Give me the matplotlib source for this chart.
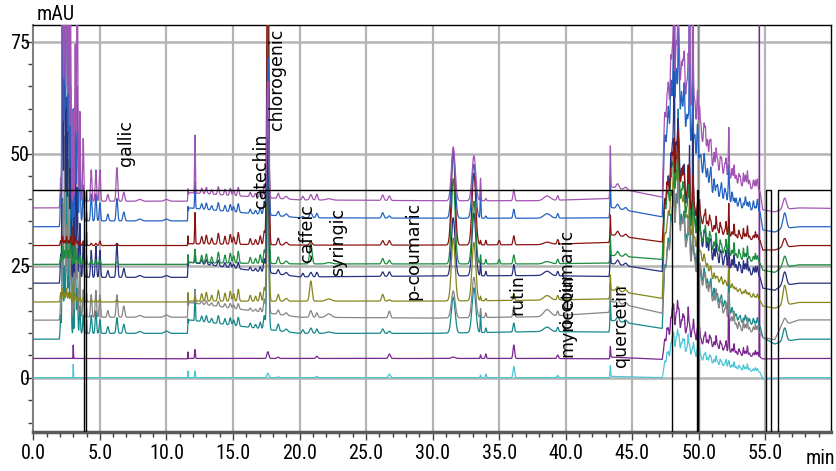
import numpy as np
import matplotlib
matplotlib.use("Agg")
import matplotlib.pyplot as plt
from matplotlib import font_manager as fm
from matplotlib.ticker import MultipleLocator, FixedLocator

# ---------------- data ----------------
# traces listed bottom -> top
trace_colors = ['#4cc6d6', '#7a2590', '#14888a', '#858585', '#85851c',
                '#26317f', '#1a8c3c', '#8c1212', '#2462c2', '#a254b2']

# baseline breakpoints (min) and absolute baseline level of every trace (mAU)
bp_t = [0, 1.95, 2.05, 4.5, 11.58, 11.68, 20.0, 30.0, 38.0, 43.25, 43.4, 47.25,
        47.4, 48.3, 49.5, 51.0, 53.0, 54.6, 54.8, 55.7, 56.2, 57.5, 60.0]
bp_cyan    = [0, 0, 0, 0, 0, 0, 0, 0, 0, 0, 0.3, 0, 2.5, 6.5, 4.5, 3.2, 1.8, 1.2, -0.3, -0.2, 0, 0, 0]
bp_purple  = [4.3, 4.3, 4.3, 4.3, 4.2, 4.3, 4.3, 4.3, 4.3, 4.2, 4.6, 4.1, 7, 11, 8, 6.8, 5, 4.6, 4.2, 4.2, 4.3, 4.3, 4.3]
bp_teal    = [8.6, 8.6, 10, 9.9, 9.9, 12.9, 9.9, 9.9, 10.3, 10.2, 12.8, 11.0, 22, 35, 25, 18, 12.5, 11.5, 9, 7.5, 8.0, 8.6, 8.6]
bp_gray    = [12.85, 12.85, 14, 13.5, 13.5, 16.8, 13.5, 13.3, 13.6, 14.6, 17.0, 14.4, 22, 34, 24, 17, 10.5, 10, 9, 8.5, 11.5, 12.9, 12.9]
bp_olive   = [16.9, 16.9, 17, 16.9, 16.9, 17.1, 17.1, 17.1, 17.3, 17.6, 19.6, 17.7, 30, 42, 30, 22, 19, 17.3, 16, 15.5, 16.0, 16.8, 16.8]
bp_navy    = [21.1, 21.1, 22.5, 22.4, 22.4, 25.8, 22.5, 22.7, 22.8, 22.6, 25.5, 23.7, 36, 45, 32, 26, 23.5, 22.5, 20, 19.5, 20.5, 21.1, 21.1]
bp_green   = [25.3, 25.3, 25.4, 25.3, 25.3, 25.7, 25.4, 25.4, 25.4, 25.6, 27.3, 26.4, 36, 41, 32, 28.5, 26.5, 25.6, 24, 23.5, 24.5, 25.2, 25.2]
bp_dred    = [29.5, 29.5, 29.6, 29.5, 29.5, 29.9, 29.6, 29.6, 29.7, 30.2, 31.9, 30.3, 38, 45, 36, 32.5, 31, 30.7, 28.5, 28.5, 29.0, 29.5, 29.5]
bp_blue    = [33.7, 33.7, 35, 35, 35, 37.9, 35.7, 35.6, 35.6, 35.7, 38.0, 35.9, 50, 60, 50, 41, 38, 37, 33, 32.5, 33.2, 33.7, 33.7]
bp_lpurple = [37.9, 37.9, 39.5, 39.4, 39.4, 41.3, 39.7, 39.5, 39.5, 40.0, 42.6, 40.3, 55, 66, 58, 47, 43, 41.5, 37.5, 37.0, 37.5, 37.9, 37.8]
baselines = [bp_cyan, bp_purple, bp_teal, bp_gray, bp_olive,
             bp_navy, bp_green, bp_dred, bp_blue, bp_lpurple]

# individual peaks: retention time, width, height on each trace (bottom -> top)
pk_t = [2.05, 2.2, 2.35, 2.5, 2.65, 2.8, 3.0, 3.15, 3.3, 3.5, 3.75, 4.0, 4.35, 4.7, 5.0,
        5.6, 6.28, 6.8, 8.0, 10.0, 11.62, 12.15, 17.35, 17.62, 18.4, 19.0, 20.25, 20.85,
        21.3, 22.2, 26.25, 26.75, 31.55, 33.1, 33.6, 34.0, 35.0, 36.1, 38.6, 39.4,
        43.35, 43.9, 44.5, 48.15, 48.45, 49.3, 49.55, 49.97, 50.03, 52.25, 54.55, 56.45]
pk_w = [0.03, 0.04, 0.04, 0.04, 0.04, 0.04, 0.015, 0.04, 0.04, 0.04, 0.04, 0.015, 0.05, 0.05, 0.05,
        0.06, 0.06, 0.07, 0.15, 0.15, 0.015, 0.03, 0.06, 0.07, 0.07, 0.1, 0.07, 0.09,
        0.07, 0.2, 0.08, 0.08, 0.14, 0.14, 0.03, 0.04, 0.06, 0.06, 0.25, 0.06,
        0.025, 0.1, 0.1, 0.02, 0.02, 0.02, 0.02, 0.012, 0.012, 0.02, 0.012, 0.13]
pk_h = [
    [0, 0, 4, 3, 2, 5, 1.5, 1, 6, 5],
    [0, 0, 30, 25, 3, 60, 4, 2, 70, 90],
    [0, 0, 15, 40, 2, 80, 3, 1, 60, 70],
    [0, 0, 45, 20, 3, 40, 5, 2, 90, 80],
    [0, 0, 20, 35, 2, 70, 3, 1, 40, 60],
    [0, 0, 30, 15, 2, 30, 6, 2, 30, 40],
    [3, 3, 20, 20, 4, 15, 6, 4, 25, 20],
    [0, 0, 25, 45, 2, 30, 4, 2, 20, 35],
    [0, 0, 10, 15, 1, 20, 2, 1, 30, 60],
    [0, 0, 6, 10, 1, 12, 2, 1, 15, 20],
    [0, 0, 4, 6, 1, 8, 1, 1, 8, 14],
    [0, 0, 3, 2, 2, 2, 2, 3, 2, 2],
    [0, 0, 4, 5, 0.5, 6, 1, 0.5, 6, 7],
    [0, 0, 5, 6, 0.5, 7, 1, 0.5, 6, 7],
    [0, 0, 3, 5, 0.5, 6, 1, 1, 4, 7],
    [0, 0, 1.5, 1.5, 0, 1.5, 0, 0, 1.5, 1.5],
    [0, 0, 3.5, 5, 0.5, 7.5, 0.5, 0.5, 5, 7.5],
    [0, 0, 2, 2.5, 0, 2, 0, 0, 2, 2],
    [0, 0, 0.4, 0.4, 0, 0.4, 0, 0, 0.4, 0.4],
    [0, 0, 0.5, 0.5, 0, 0.4, 0, 0, 0.4, 0.4],
    [1.5, 1.5, 2, 2, 2, 2, 2, 2, 2, 2],
    [1.5, 2, 7, 3, 1, 3, 3, 7, 6, 13],
    [0, 0, 3, 3, 3, 3, 3, 3, 3, 3],
    [1.0, 1.5, 35, 30, 55, 30, 60, 85, 35, 26],
    [0.2, 0.3, 1.5, 1, 1.5, 1, 1.5, 1.5, 1, 1.2],
    [0, 0, 0.6, 0.6, 0.6, 0.6, 0.6, 0.6, 0.6, 0.6],
    [0, 0, 0.8, 0, 0, 0.8, 0, 0, 0.3, 0.8],
    [0, 0, 1.2, 1.5, 4.5, 1.0, 4.5, 0.8, 1.2, 1.2],
    [0.3, 0.5, 1, 1, 0, 1, 0, 0, 1, 1.3],
    [0, 0, 0.3, 0.8, 0.5, 0, 0.3, 0, 0, 0.3],
    [0, 0, 1, 0, 1.5, 1, 1.2, 1, 1.2, 1.2],
    [0.8, 1, 0.5, 1.5, 0.3, 1, 0.8, 1, 0.5, 1],
    [0, 0.3, 8, 6, 14, 13, 19, 21, 15, 12],
    [0, 0, 10, 9, 13, 14, 14, 16, 12, 10],
    [0.6, 0.8, 4, 2, 1, 3, 2, 1, 6, 5],
    [0.8, 1, 1, 1, 0.5, 1, 1, 1, 0.5, 0.5],
    [0, 0, 0, 0, 0, 0, 1, 1, 0, 0],
    [2.5, 3, 2, 2.5, 1.5, 2.5, 2, 2, 2, 2.5],
    [0, 0, 1, 1.5, 1, 1, 0.5, 0.5, 1, 1],
    [0.5, 0.8, 1, 1, 1, 1, 1, 1, 1, 1],
    [2.5, 2.5, 5, 5, 4, 5, 5, 5, 8, 10],
    [0, 0, 1, 1, 1, 1, 1, 1, 1, 1],
    [0, 0, 0.6, 0.6, 0.6, 0.6, 0.6, 0.6, 0.6, 0.6],
    [0, 0, 5, 5, 5, 50, 5, 5, 60, 50],
    [0, 0, 20, 5, 5, 5, 5, 5, 10, 40],
    [0, 0, 5, 5, 5, 10, 5, 5, 60, 60],
    [0, 0, 5, 5, 5, 40, 5, 5, 20, 70],
    [0, 0, 0, 120, 0, 0, 0, 0, 0, 0],
    [0, 0, 0, -120, 0, 0, 0, 0, 0, 0],
    [0, 28, 3, 3, 2, 3, 3, 5, 3, 6],
    [0, 90, 0, 0, 0, 0, 0, 0, 0, 0],
    [0, 0, 3, 1.5, 4.5, 3, 2.5, 2, 3.5, 2.5],
]

# cluster of small peaks 12.6 - 17.1 min (shared shape, per-trace scale)
grpA_t = [12.65, 13.0, 13.4, 13.9, 14.4, 14.8, 15.05, 15.4, 16.3, 16.7, 17.05]
grpA_h = [1.5, 1.8, 1.2, 2.2, 1.6, 2.0, 1.5, 2.4, 1.2, 1.0, 1.8]
grpA_scale = [0, 0, 0.8, 0.5, 1.1, 0.6, 1.1, 1.1, 0.8, 0.8]
grpA_w = 0.06

# late cluster 47.4 - 54.4 min, two interleaved shapes with per-trace scales
grpB_t = [47.45, 47.7, 47.9, 48.1, 48.3, 48.5, 48.7, 48.9, 49.1, 49.3, 49.5, 49.7, 49.9,
          50.15, 50.4, 50.65, 50.9, 51.15, 51.4, 51.7, 51.95, 52.25, 52.5, 52.8, 53.1,
          53.5, 53.8, 54.1, 54.4]
grpB_h = [2, 4, 6, 9, 5, 7, 4, 6, 3, 5, 4, 3, 5, 2, 3, 2, 3, 2, 1.5, 2, 1.5, 3, 1.5,
          1, 1.2, 1.5, 1, 1.2, 1.5]
grpB_scale = [0.5, 0.7, 1.2, 1.0, 0.8, 1.5, 1.0, 0.8, 1.8, 1.8]
grpB_w = 0.05
grpC_t = [47.6, 48.0, 48.4, 48.8, 49.2, 49.6, 50.05, 50.5, 50.8, 51.3, 51.6, 52.05,
          52.65, 53.0, 53.35, 53.65, 54.25]
grpC_h = [3, 5, 6, 4, 7, 5, 4, 3, 2.5, 3, 2, 2.5, 2.5, 1.5, 2, 2.5, 1.5]
grpC_scale = [0.6, 0.9, 0.5, 1.2, 0.3, 1.4, 1.3, 1.2, 0.6, 1.5]
grpC_w = 0.035

# event (black step) trace
ev_t = [0, 3.8, 3.8, 3.95, 3.95, 47.96, 47.96, 49.85, 49.85, 49.93, 49.93,
        55.08, 55.08, 55.43, 55.43, 55.93, 55.93, 60]
ev_y = [42, 42, -20, -20, 42, 42, -20, -20, 42, 42, -20, -20, 42, 42, -20, -20, 42, 42]

# compound annotations: name, x (min), bottom of text (mAU)
lab_names = ['gallic', 'catechin', 'chlorogenic', 'caffeic', 'syringic',
             'p-coumaric', 'rutin', 'myricetin', 'o-coumaric', 'quercetin']
lab_x = [6.96, 17.07, 18.31, 20.54, 22.89, 28.53, 36.34, 40.1, 40.1, 44.15]
lab_y = [47.3, 37.8, 55.4, 25.9, 22.7, 17.3, 14.0, 4.7, 11.1, 2.45]

x_major = [0, 5, 10, 15, 20, 25, 30, 35, 40, 45, 50, 55]
y_major = [0, 25, 50, 75]

# ---------------- fonts ----------------
avail = {f.name for f in fm.fontManager.ttflist}
narrow = next((n for n in ['Liberation Sans Narrow', 'Arial Narrow', 'DejaVu Sans Condensed',
                           'Roboto Condensed', 'Open Sans Condensed', 'Liberation Sans']
               if n in avail), 'DejaVu Sans')

# ---------------- figure ----------------
W, H = 836, 471
fig = plt.figure(figsize=(W / 100, H / 100), dpi=100)
L, R, T, B = 33.3, 831.0, 25.3, 431.7
ax = fig.add_axes([L / W, 1 - B / H, (R - L) / W, (B - T) / H])
ax.set_xlim(0, 59.93)
ax.set_ylim(-12.05, 78.66)

t = np.arange(0.0, 60.0, 0.004)
for i in range(len(trace_colors)):
    y = np.interp(t, bp_t, baselines[i])
    for k in range(len(pk_t)):
        h = pk_h[k][i]
        if h:
            y = y + h * np.exp(-0.5 * ((t - pk_t[k]) / pk_w[k]) ** 2)
    for tk, hk in zip(grpA_t, grpA_h):
        y = y + grpA_scale[i] * hk * np.exp(-0.5 * ((t - tk) / grpA_w) ** 2)
    for tk, hk in zip(grpB_t, grpB_h):
        y = y + grpB_scale[i] * hk * np.exp(-0.5 * ((t - tk) / grpB_w) ** 2)
    for tk, hk in zip(grpC_t, grpC_h):
        y = y + grpC_scale[i] * hk * np.exp(-0.5 * ((t - tk) / grpC_w) ** 2)
    ax.plot(t, y, color=trace_colors[i], lw=0.9, zorder=3)

ax.plot(ev_t, ev_y, color='black', lw=1.0, zorder=4)

for name, x, y0 in zip(lab_names, lab_x, lab_y):
    ax.text(x, y0, name, rotation=90, ha='center', va='bottom',
            fontsize=12.5, family='DejaVu Sans', color='black', zorder=5)

# grid
for xv in x_major[1:]:
    ax.axvline(xv, color='#b4b4b4', lw=1.6, zorder=1)
for yv in y_major:
    ax.axhline(yv, color='#b4b4b4', lw=1.8, zorder=1)

# spines
ax.spines['top'].set_color('black'); ax.spines['top'].set_linewidth(1.0)
ax.spines['right'].set_color('black'); ax.spines['right'].set_linewidth(1.0)
ax.spines['left'].set_color('#808080'); ax.spines['left'].set_linewidth(1.5)
ax.spines['bottom'].set_color('#5a5a5a'); ax.spines['bottom'].set_linewidth(2.5)

ax.xaxis.set_major_locator(FixedLocator(x_major))
ax.xaxis.set_minor_locator(MultipleLocator(1))
ax.yaxis.set_major_locator(FixedLocator(y_major))
ax.yaxis.set_minor_locator(MultipleLocator(5))
ax.set_xticklabels(['%.1f' % v for v in x_major])
ax.set_yticklabels([str(v) for v in y_major])
ax.tick_params(axis='x', which='major', length=6, width=1, color='#404040', pad=3,
               labelsize=14.5)
ax.tick_params(axis='x', which='minor', length=3.5, width=1, color='#404040')
ax.tick_params(axis='y', which='major', length=6, width=1, color='#404040', pad=-3.5,
               labelsize=14.5)
ax.tick_params(axis='y', which='minor', length=3.5, width=1, color='#404040')
for lab in ax.get_xticklabels() + ax.get_yticklabels():
    lab.set_family(narrow)

fig.text(820 / W, 1 - 458 / H, 'min', ha='center', va='center', fontsize=14.5, family=narrow)
fig.text(37 / W, 1 - 14 / H, 'mAU', ha='left', va='center', fontsize=14.5, family=narrow)

fig.savefig('out.png', dpi=100)
